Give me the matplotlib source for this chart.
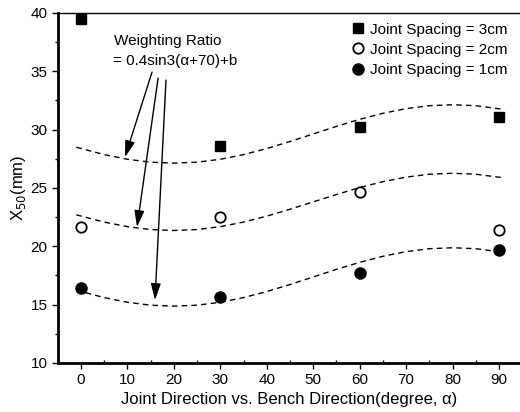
import matplotlib
matplotlib.use("Agg")
import matplotlib.pyplot as plt
from matplotlib.ticker import MultipleLocator

plt.rcParams['font.family'] = ['Liberation Sans', 'DejaVu Sans']

# measured data
angles = [0, 30, 60, 90]
js3 = [39.5, 28.57, 30.23, 31.09]
js2 = [21.66, 22.52, 24.66, 21.38]
js1 = [16.38, 15.66, 17.75, 19.67]

# dashed fitted curves
curve_x = [-1, 5, 10, 15, 20, 25, 30, 35, 40, 45, 50, 55, 60, 65, 70, 75, 80, 85, 91]
curve3 = [28.48, 27.85, 27.45, 27.2, 27.12, 27.2, 27.45, 27.85, 28.37, 28.97,
          29.62, 30.27, 30.87, 31.39, 31.79, 32.04, 32.12, 32.04, 31.72]
curve2 = [22.69, 22.07, 21.68, 21.43, 21.35, 21.43, 21.68, 22.07, 22.58, 23.17,
          23.8, 24.43, 25.03, 25.53, 25.92, 26.17, 26.25, 26.17, 25.86]
curve1 = [16.23, 15.6, 15.2, 14.95, 14.87, 14.95, 15.2, 15.6, 16.12, 16.72,
          17.37, 18.02, 18.62, 19.14, 19.54, 19.79, 19.87, 19.79, 19.47]

xticks = [0, 10, 20, 30, 40, 50, 60, 70, 80, 90]
yticks = [10, 15, 20, 25, 30, 35, 40]

fig = plt.figure(figsize=(5.2, 4.12), dpi=100)
ax = fig.add_axes([0.1115, 0.119, 0.8885, 0.850])

for cy in (curve3, curve2, curve1):
    ax.plot(curve_x, cy, linestyle=(0, (4, 3)), color='black', linewidth=1.0)

ax.plot(angles, js3, linestyle='none', marker='s', markersize=7,
        color='black', label='Joint Spacing = 3cm')
ax.plot(angles, js2, linestyle='none', marker='o', markersize=7.5,
        markerfacecolor='white', markeredgecolor='black', markeredgewidth=1.3,
        label='Joint Spacing = 2cm')
ax.plot(angles, js1, linestyle='none', marker='o', markersize=8,
        color='black', label='Joint Spacing = 1cm')

ax.set_xlim(-4.95, 94.5)
ax.set_ylim(10, 40)
ax.set_xticks(xticks)
ax.set_yticks(yticks)
ax.xaxis.set_minor_locator(MultipleLocator(5))
ax.yaxis.set_minor_locator(MultipleLocator(2.5))
ax.tick_params(axis='both', which='major', direction='out', length=4, width=1,
               labelsize=11)
ax.tick_params(axis='both', which='minor', direction='out', length=2.5, width=1)
ax.tick_params(axis='x', which='minor', direction='in')

ax.spines['right'].set_visible(False)
ax.spines['left'].set_linewidth(2.0)
ax.spines['bottom'].set_linewidth(2.0)
ax.spines['top'].set_linewidth(1.0)

ax.set_xlabel('Joint Direction vs. Bench Direction(degree, \u03b1)', fontsize=12, labelpad=3)
ax.set_ylabel('X$_{50}$(mm)', fontsize=12, labelpad=2)

ax.text(18.6, 37.6, 'Weighting Ratio', fontsize=11, ha='center', va='center')
ax.text(20.3, 35.9, '= 0.4sin3(\u03b1+70)+b', fontsize=11, ha='center', va='center')

arrow_props = dict(arrowstyle='-|>,head_length=1.0,head_width=0.3', color='black',
                   linewidth=1.0, shrinkA=0, shrinkB=0)
ax.annotate('', xy=(9.47, 27.63), xytext=(15.3, 34.92), arrowprops=arrow_props)
ax.annotate('', xy=(12.06, 21.64), xytext=(16.6, 34.4), arrowprops=arrow_props)
ax.annotate('', xy=(15.93, 15.38), xytext=(18.3, 34.23), arrowprops=arrow_props)

ax.legend(loc='upper right', bbox_to_anchor=(0.995, 1.0), frameon=False,
          fontsize=11, handlelength=0.8, handletextpad=0.4, labelspacing=0.4,
          borderaxespad=0.25)

fig.savefig('out.png', dpi=100)
